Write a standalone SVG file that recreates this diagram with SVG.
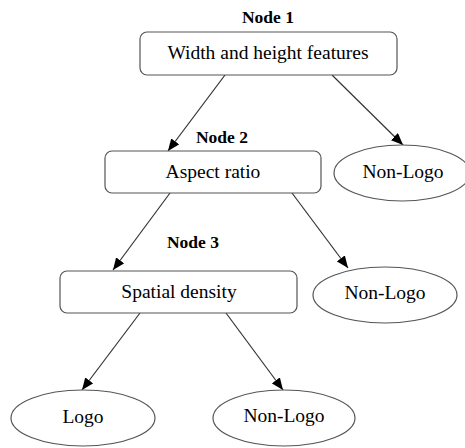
<svg xmlns="http://www.w3.org/2000/svg" width="465" height="448" viewBox="0 0 465 448">
<style>
.box{fill:#fff;stroke:#555;stroke-width:1.2}
.t{font-family:"Liberation Serif","Times New Roman",serif;font-size:19.5px;fill:#000;text-anchor:middle}
.lbl{font-family:"Liberation Serif","Times New Roman",serif;font-size:17.5px;font-weight:bold;fill:#000;text-anchor:middle}
.edge{stroke:#333;stroke-width:1.2;fill:none;marker-end:url(#ah)}
</style>
<defs>
<marker id="ah" viewBox="0 0 12 10" refX="12" refY="5" markerWidth="12" markerHeight="10" markerUnits="userSpaceOnUse" orient="auto">
<path d="M0,0 L12,5 L0,10 Z" fill="#000"/>
</marker>
</defs>
<g id="connectors">
<line class="edge" x1="225" y1="75" x2="168" y2="151"/>
<line class="edge" x1="332" y1="75" x2="403" y2="145"/>
<line class="edge" x1="170" y1="193" x2="113" y2="270"/>
<line class="edge" x1="292" y1="193" x2="348" y2="268"/>
<line class="edge" x1="140" y1="313" x2="82" y2="390"/>
<line class="edge" x1="226" y1="313" x2="283" y2="390"/>
</g>
<g id="node1">
<text class="lbl" x="268" y="23">Node 1</text>
<rect class="box" x="140" y="32" width="257" height="43" rx="7"/>
<text class="t" x="268" y="59">Width and height features</text>
</g>
<g id="node2">
<text class="lbl" x="222" y="143">Node 2</text>
<rect class="box" x="105" y="151" width="216" height="42" rx="7"/>
<text class="t" x="213" y="178">Aspect ratio</text>
</g>
<g id="nonlogo1">
<ellipse class="box" cx="402" cy="173" rx="68" ry="28"/>
<text class="t" x="403" y="178">Non-Logo</text>
</g>
<g id="node3">
<text class="lbl" x="193" y="248">Node 3</text>
<rect class="box" x="60" y="271" width="237" height="42" rx="7"/>
<text class="t" x="179" y="298">Spatial density</text>
</g>
<g id="nonlogo2">
<ellipse class="box" cx="385" cy="295" rx="72" ry="28"/>
<text class="t" x="385" y="299">Non-Logo</text>
</g>
<g id="logo">
<ellipse class="box" cx="83" cy="418" rx="72" ry="28"/>
<text class="t" x="83" y="423">Logo</text>
</g>
<g id="nonlogo3">
<ellipse class="box" cx="284" cy="418" rx="71" ry="28"/>
<text class="t" x="284" y="422">Non-Logo</text>
</g>
</svg>
